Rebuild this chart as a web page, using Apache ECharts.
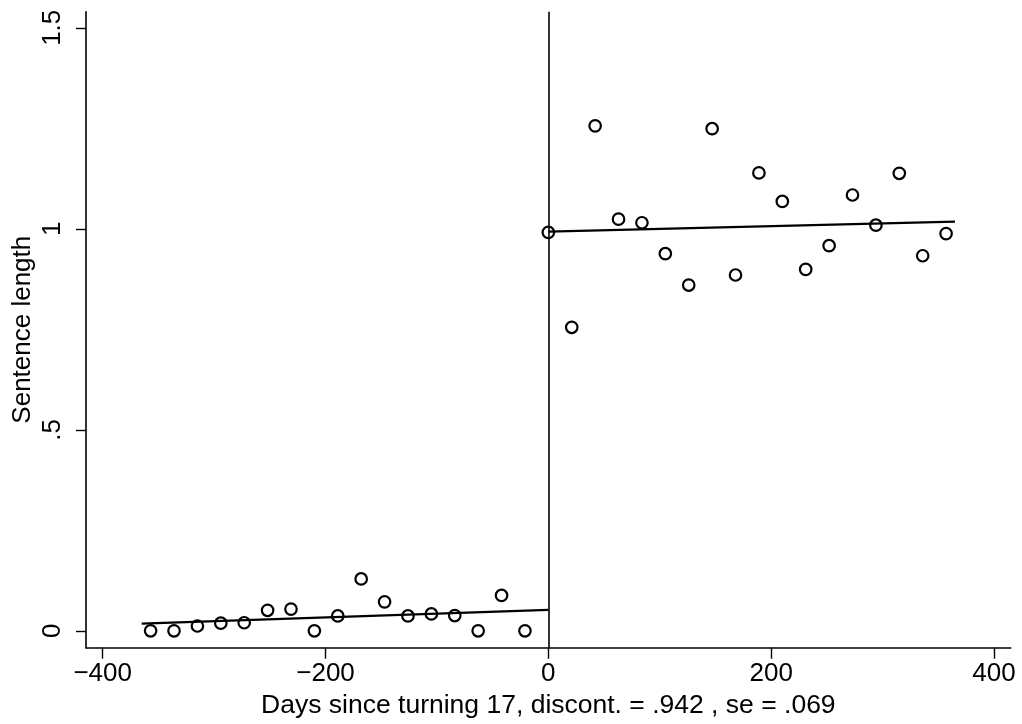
<!DOCTYPE html>
<html>
<head>
<meta charset="utf-8">
<script src="https://cdn.jsdelivr.net/npm/echarts@6/dist/echarts.min.js"></script>
<style>
html,body{margin:0;padding:0;background:#fff;}
#chart{width:1022px;height:724px;}
</style>
</head>
<body>
<div id="chart"></div>
<script>
// Data
const daysLeft = [-357,-336,-315,-294,-273,-252,-231,-210,-189,-168,-147,-126,-105,-84,-63,-42,-21];
const lengthLeft = [0,0,0.012,0.019,0.020,0.051,0.054,0,0.037,0.129,0.072,0.037,0.042,0.038,0,0.088,0];
const daysRight = [0,21,42,63,84,105,126,147,168,189,210,231,252,273,294,315,336,357];
const lengthRight = [0.991,0.755,1.256,1.024,1.015,0.938,0.860,1.249,0.885,1.139,1.068,0.899,0.958,1.084,1.009,1.138,0.933,0.988];
const fitLeftX = [-365, 0];
const fitLeftY = [0.018, 0.052];
const fitRightX = [0, 365];
const fitRightY = [0.993, 1.018];
const xTicks = [-400, -200, 0, 200, 400];
const yTicks = [0, 0.5, 1, 1.5];
const xTitle = 'Days since turning 17, discont. = .942 , se = .069';
const yTitle = 'Sentence length';

const font = 'Liberation Sans, Arial, Helvetica, sans-serif';
const pairs = (xs, ys) => xs.map((x, i) => [x, ys[i]]);
const pointStyle = {color: 'rgba(0,0,0,0)', borderColor: '#000', borderWidth: 2.2, opacity: 1};

const chart = echarts.init(document.getElementById('chart'), null, {renderer: 'canvas'});
chart.setOption({
  backgroundColor: '#fff',
  animation: false,
  grid: {left: 86, right: 11.3, top: 11.7, bottom: 76.3, containLabel: false, outerBoundsMode: 'none'},
  xAxis: {
    type: 'value', min: -415, max: 415,
    splitLine: {show: false},
    axisLine: {onZero: false, lineStyle: {color: '#000', width: 1.6}},
    axisTick: {length: 11, customValues: xTicks, lineStyle: {color: '#000', width: 1.4}},
    axisLabel: {customValues: xTicks, margin: 13, fontSize: 26, color: '#000', fontFamily: font,
      formatter: v => (v < 0 ? '\u2212' + Math.abs(v) : String(v))},
    name: xTitle, nameLocation: 'middle', nameGap: 44, nameMoveOverlap: false,
    nameTextStyle: {fontSize: 26.5, color: '#000', fontFamily: font}
  },
  yAxis: {
    type: 'value', min: -0.042, max: 1.54,
    splitLine: {show: false},
    axisLine: {onZero: false, lineStyle: {color: '#000', width: 1.6}},
    axisTick: {length: 10, customValues: yTicks, lineStyle: {color: '#000', width: 1.4}},
    axisLabel: {customValues: yTicks, rotate: 90, margin: 20, fontSize: 26, color: '#000', fontFamily: font,
      formatter: v => (v === 0 ? '0' : v === 0.5 ? '.5' : v === 1 ? '1' : '1.5')},
    name: yTitle, nameLocation: 'middle', nameGap: 50, nameRotate: 90, nameMoveOverlap: false,
    nameTextStyle: {fontSize: 26, color: '#000', fontFamily: font}
  },
  series: [
    {type: 'scatter', data: pairs(daysLeft, lengthLeft), symbol: 'circle', symbolSize: 11.5, itemStyle: pointStyle, z: 3,
      markLine: {silent: true, symbol: 'none', label: {show: false},
        lineStyle: {color: '#000', width: 1.6, type: 'solid'}, data: [{xAxis: 0}]}},
    {type: 'scatter', data: pairs(daysRight, lengthRight), symbol: 'circle', symbolSize: 11.5, itemStyle: pointStyle, z: 3},
    {type: 'line', data: pairs(fitLeftX, fitLeftY), showSymbol: false, lineStyle: {color: '#000', width: 2.3}},
    {type: 'line', data: pairs(fitRightX, fitRightY), showSymbol: false, lineStyle: {color: '#000', width: 2.3}}
  ]
});
</script>
</body>
</html>
